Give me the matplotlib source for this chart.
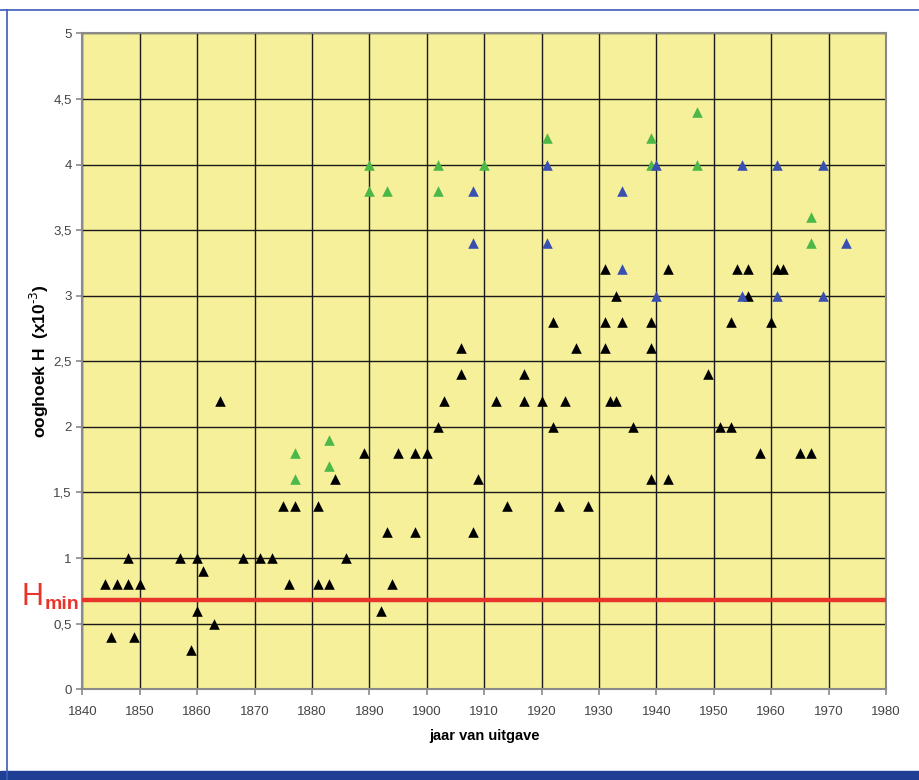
import matplotlib
matplotlib.use("Agg")
import matplotlib.pyplot as plt
from matplotlib.lines import Line2D
from matplotlib.ticker import FuncFormatter

# black series (jaar, H)
black_year = [1844, 1845, 1846, 1848, 1848, 1849, 1850, 1857, 1859, 1860, 1860, 1861,
              1863, 1864, 1868, 1871, 1873, 1875, 1876, 1877, 1881, 1881, 1883, 1884,
              1886, 1889, 1892, 1893, 1894, 1895, 1898, 1898, 1900, 1902, 1903, 1906,
              1906, 1908, 1909, 1912, 1914, 1917, 1917, 1920, 1922, 1922, 1923, 1924,
              1926, 1928, 1931, 1931, 1931, 1932, 1933, 1933, 1934, 1936, 1939, 1939,
              1939, 1942, 1942, 1949, 1951, 1953, 1953, 1954, 1956, 1956, 1958, 1960,
              1961, 1962, 1965, 1967]
black_h = [0.8, 0.4, 0.8, 1.0, 0.8, 0.4, 0.8, 1.0, 0.3, 1.0, 0.6, 0.9,
           0.5, 2.2, 1.0, 1.0, 1.0, 1.4, 0.8, 1.4, 1.4, 0.8, 0.8, 1.6,
           1.0, 1.8, 0.6, 1.2, 0.8, 1.8, 1.2, 1.8, 1.8, 2.0, 2.2, 2.6,
           2.4, 1.2, 1.6, 2.2, 1.4, 2.4, 2.2, 2.2, 2.8, 2.0, 1.4, 2.2,
           2.6, 1.4, 3.2, 2.8, 2.6, 2.2, 3.0, 2.2, 2.8, 2.0, 2.8, 2.6,
           1.6, 3.2, 1.6, 2.4, 2.0, 2.8, 2.0, 3.2, 3.2, 3.0, 1.8, 2.8,
           3.2, 3.2, 1.8, 1.8]

green_year = [1877, 1877, 1883, 1883, 1890, 1890, 1893, 1902, 1902, 1910, 1921,
              1939, 1939, 1947, 1947, 1967, 1967]
green_h = [1.8, 1.6, 1.9, 1.7, 4.0, 3.8, 3.8, 4.0, 3.8, 4.0, 4.2,
           4.2, 4.0, 4.4, 4.0, 3.6, 3.4]

blue_year = [1908, 1908, 1921, 1921, 1934, 1934, 1940, 1940, 1955, 1955, 1961,
             1961, 1969, 1969, 1973]
blue_h = [3.8, 3.4, 4.0, 3.4, 3.8, 3.2, 4.0, 3.0, 4.0, 3.0, 4.0,
          3.0, 4.0, 3.0, 3.4]

h_min = 0.68

plt.rcParams['font.family'] = ['Liberation Sans', 'DejaVu Sans']

fig = plt.figure(figsize=(9.19, 7.80), dpi=100)
fig.patch.set_facecolor('white')
ax = fig.add_axes([0.0896, 0.1163, 0.8745, 0.8410])
ax.set_facecolor('#f6f09a')

ax.set_xlim(1840, 1980)
ax.set_ylim(0, 5)
ax.set_xticks(range(1840, 1981, 10))
ax.set_yticks([i * 0.5 for i in range(11)])
ax.yaxis.set_major_formatter(FuncFormatter(lambda v, p: ('%g' % v).replace('.', ',')))
ax.grid(True, color='#1a1a1a', linewidth=1.0)
ax.set_axisbelow(True)
for s in ax.spines.values():
    s.set_color('#8a8a8a')
    s.set_linewidth(1.5)
ax.tick_params(axis='both', colors='#8a8a8a', labelcolor='#444444', labelsize=9.5,
               length=4, width=1.2, direction='out')
ax.tick_params(axis='x', pad=8)

ax.axhline(h_min, color='#e8352b', linewidth=3.2, zorder=3)

ax.scatter(black_year, black_h, marker='^', s=58, color='black', zorder=4, linewidths=0)
ax.scatter(green_year, green_h, marker='^', s=58, color='#4cb848', zorder=4, linewidths=0)
ax.scatter(blue_year, blue_h, marker='^', s=58, color='#3a50b0', zorder=4, linewidths=0)

ax.set_xlabel('jaar van uitgave', fontsize=10.5, fontweight='bold', labelpad=8)
ax.set_ylabel(r'ooghoek H  (x10$^{\text{-3}}$)', fontsize=12.5, fontweight='bold', labelpad=2)

# H_min label on the left of the red line
fig.text(0.023, 0.235, 'H', color='#e8352b', fontsize=22, ha='left', va='center')
fig.text(0.049, 0.225, 'min', color='#e8352b', fontsize=14, fontweight='bold',
         ha='left', va='center')

# blue frame lines
fig.add_artist(Line2D([0.0, 1.0], [0.987, 0.987], color='#3b5cb8', linewidth=1.2))
fig.add_artist(Line2D([0.0075, 0.0075], [0.0, 0.987], color='#3b5cb8', linewidth=1.2))
fig.add_artist(plt.Rectangle((0, 0), 1, 0.011, color='#1f3f94', transform=fig.transFigure))

fig.savefig('out.png', dpi=100)
